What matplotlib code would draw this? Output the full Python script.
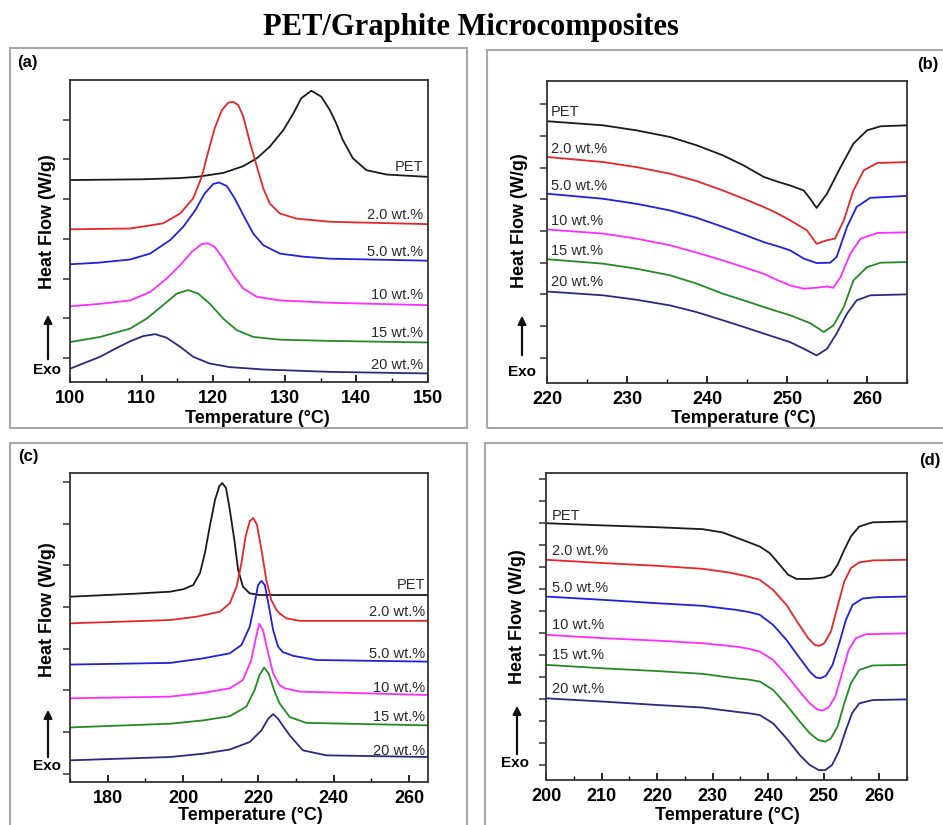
import matplotlib
matplotlib.use("Agg")
import matplotlib.pyplot as plt
from matplotlib.patches import Rectangle, FancyArrowPatch
from matplotlib.ticker import MultipleLocator

plt.rcParams['font.family'] = ['Liberation Sans', 'DejaVu Sans']

W, H = 943, 825

labels = ['PET', '2.0 wt.%', '5.0 wt.%', '10 wt.%', '15 wt.%', '20 wt.%']
colors = ['#1a1a1a', '#e8262a', '#2020dd', '#ff2bff', '#238b23', '#2a2a80']

# ---- (a) cooling crystallization, 100-150 C
a_T = [
    [100, 110.2, 115.3, 117.7, 121.4, 124.2, 126.1, 127.9, 129.8, 131.2, 132.3, 133.7, 135.1, 136.3, 137.2, 138.1, 139.5, 141.4, 144.2, 150],
    [100, 108.4, 113.0, 115.4, 117.2, 118.4, 119.3, 120.2, 121.2, 122.1, 122.8, 123.5, 124.2, 125.1, 126.1, 127.0, 127.9, 129.3, 131.6, 136.3, 150],
    [100, 104.0, 108.4, 111.2, 114.0, 115.8, 117.5, 118.8, 120.0, 120.8, 121.9, 123.0, 124.2, 125.6, 127.0, 129.3, 132.6, 136.3, 150],
    [100, 104.0, 108.4, 111.2, 113.5, 115.4, 117.0, 118.4, 119.2, 120.2, 121.4, 122.8, 124.2, 126.1, 129.3, 136.3, 150],
    [100, 104.2, 108.4, 110.7, 113.0, 114.9, 116.5, 117.9, 119.5, 121.4, 123.3, 125.6, 129.3, 136.3, 150],
    [100, 104.2, 106.5, 108.4, 110.2, 111.9, 113.5, 115.4, 117.2, 119.5, 122.3, 127.0, 136.3, 150],
]
a_y = [
    [5.48, 5.50, 5.53, 5.56, 5.66, 5.83, 6.03, 6.32, 6.74, 7.16, 7.54, 7.73, 7.58, 7.24, 6.90, 6.49, 6.03, 5.73, 5.62, 5.56],
    [4.24, 4.26, 4.39, 4.64, 5.02, 5.56, 6.19, 6.78, 7.24, 7.43, 7.45, 7.37, 7.08, 6.45, 5.82, 5.27, 4.89, 4.64, 4.51, 4.43, 4.37],
    [3.36, 3.40, 3.48, 3.63, 3.97, 4.30, 4.72, 5.14, 5.38, 5.42, 5.33, 5.02, 4.60, 4.13, 3.84, 3.63, 3.55, 3.50, 3.45],
    [2.30, 2.36, 2.45, 2.66, 3.00, 3.34, 3.67, 3.87, 3.89, 3.80, 3.50, 3.08, 2.75, 2.54, 2.45, 2.39, 2.33],
    [1.40, 1.53, 1.74, 1.99, 2.33, 2.62, 2.71, 2.62, 2.37, 1.99, 1.70, 1.53, 1.46, 1.43, 1.39],
    [0.73, 1.03, 1.25, 1.42, 1.55, 1.60, 1.51, 1.28, 1.03, 0.86, 0.77, 0.71, 0.65, 0.61],
]
a_label_y = [5.82, 4.60, 3.67, 2.58, 1.63, 0.82]

# ---- (b) melting after cooling, 220-265 C
b_T = [
    [220, 227.0, 231.2, 235.4, 238.7, 242.0, 244.6, 247.1, 248.7, 250.4, 252.1, 252.9, 253.7, 255.0, 256.7, 258.3, 260.0, 261.7, 265],
    [220, 227.0, 231.2, 235.4, 238.7, 242.0, 244.6, 247.1, 248.7, 250.4, 252.5, 253.7, 255.0, 256.0, 257.1, 258.3, 259.6, 261.3, 265],
    [220, 227.0, 231.2, 235.4, 238.7, 242.0, 244.6, 247.1, 248.7, 250.4, 252.1, 253.7, 255.4, 256.2, 257.5, 258.7, 260.4, 265],
    [220, 227.0, 231.2, 235.4, 238.7, 242.0, 244.6, 247.1, 248.7, 250.4, 252.1, 253.7, 255.0, 255.8, 256.7, 257.9, 259.2, 261.3, 265],
    [220, 227.0, 231.2, 235.4, 238.7, 242.0, 244.6, 247.1, 248.7, 250.4, 252.9, 254.6, 255.8, 257.1, 258.3, 260.0, 261.7, 265],
    [220, 227.0, 231.2, 235.4, 238.7, 242.0, 244.6, 247.1, 248.7, 250.4, 252.5, 253.7, 255.0, 256.2, 257.5, 258.7, 260.4, 265],
]
b_y = [
    [8.47, 8.34, 8.18, 7.97, 7.71, 7.39, 7.07, 6.71, 6.57, 6.44, 6.28, 6.02, 5.73, 6.18, 7.02, 7.76, 8.18, 8.31, 8.34],
    [7.34, 7.18, 7.02, 6.81, 6.58, 6.28, 6.02, 5.76, 5.57, 5.34, 5.02, 4.60, 4.71, 4.76, 5.34, 6.28, 6.92, 7.15, 7.18],
    [6.18, 6.02, 5.86, 5.65, 5.42, 5.13, 4.89, 4.65, 4.53, 4.39, 4.13, 3.99, 4.00, 4.18, 5.13, 5.76, 6.05, 6.11],
    [5.05, 4.92, 4.76, 4.55, 4.32, 4.07, 3.86, 3.65, 3.46, 3.28, 3.18, 3.21, 3.25, 3.21, 3.55, 4.28, 4.76, 4.94, 4.96],
    [4.11, 3.97, 3.81, 3.60, 3.34, 3.02, 2.81, 2.60, 2.47, 2.34, 2.09, 1.81, 2.02, 2.60, 3.44, 3.86, 4.00, 4.02],
    [3.09, 2.97, 2.83, 2.65, 2.44, 2.18, 1.97, 1.76, 1.63, 1.49, 1.23, 1.07, 1.28, 1.76, 2.39, 2.81, 2.97, 3.00],
]
b_label_y = [8.76, 7.60, 6.42, 5.31, 4.37, 3.39]

# ---- (c) cooling from melt, 170-265 C
c_T = [
    [170, 186.9, 196.6, 200.1, 202.7, 204.5, 205.8, 207.1, 208.5, 209.6, 210.4, 211.4, 212.4, 213.6, 214.6, 215.9, 217.7, 220.3, 225.6, 265],
    [170, 186.9, 196.6, 203.6, 209.8, 212.4, 214.2, 215.5, 216.6, 217.7, 218.6, 219.6, 220.8, 222.1, 223.4, 224.8, 225.6, 227.4, 231.0, 265],
    [170, 196.6, 205.4, 212.4, 215.5, 217.7, 219.0, 219.9, 220.8, 221.7, 222.8, 223.9, 225.2, 226.5, 229.2, 235.3, 265],
    [170, 196.6, 205.4, 212.4, 215.9, 218.1, 219.3, 220.2, 221.2, 222.6, 223.9, 225.6, 227.0, 231.0, 265],
    [170, 196.6, 205.4, 212.4, 216.8, 219.0, 220.3, 221.5, 222.7, 224.3, 225.6, 228.3, 232.7, 265],
    [170, 196.6, 205.4, 212.4, 217.7, 220.8, 222.6, 223.9, 225.2, 226.5, 228.3, 231.8, 238.0, 265],
]
c_y = [
    [5.25, 5.32, 5.37, 5.43, 5.53, 5.82, 6.30, 6.94, 7.58, 7.90, 7.98, 7.86, 7.34, 6.62, 5.90, 5.49, 5.33, 5.29, 5.29, 5.29],
    [4.61, 4.66, 4.69, 4.77, 4.89, 5.09, 5.49, 6.06, 6.70, 7.06, 7.14, 6.98, 6.38, 5.65, 5.17, 4.93, 4.85, 4.73, 4.67, 4.67],
    [3.62, 3.66, 3.77, 3.89, 4.09, 4.53, 5.09, 5.53, 5.63, 5.53, 5.01, 4.45, 4.05, 3.92, 3.83, 3.73, 3.69],
    [2.81, 2.85, 2.94, 3.05, 3.25, 3.73, 4.25, 4.60, 4.45, 3.89, 3.41, 3.13, 3.05, 2.97, 2.89],
    [2.11, 2.20, 2.28, 2.38, 2.61, 3.01, 3.37, 3.55, 3.41, 2.97, 2.69, 2.36, 2.22, 2.16],
    [1.32, 1.40, 1.48, 1.58, 1.76, 2.04, 2.32, 2.43, 2.32, 2.15, 1.92, 1.56, 1.44, 1.40],
]
c_label_y = [5.53, 4.89, 3.87, 3.05, 2.36, 1.55]

# ---- (d) second melting, 200-265 C
d_T = [
    [200, 210.3, 219.8, 228.2, 231.8, 235.3, 238.5, 240.3, 242.1, 243.6, 245.1, 247.5, 250.1, 251.3, 252.5, 253.7, 254.9, 256.4, 258.8, 265],
    [200, 210.3, 219.8, 228.2, 233.0, 236.0, 238.5, 240.9, 243.3, 245.4, 247.2, 248.4, 249.2, 250.1, 251.3, 252.5, 253.7, 254.9, 256.4, 258.8, 265],
    [200, 210.3, 219.8, 228.2, 234.1, 236.5, 238.5, 240.9, 243.3, 245.7, 247.5, 248.6, 249.4, 250.4, 251.6, 252.8, 254.0, 255.2, 257.0, 259.4, 265],
    [200, 210.3, 219.8, 228.2, 234.1, 236.5, 238.5, 240.9, 243.3, 245.7, 247.5, 248.8, 249.8, 250.9, 252.1, 253.3, 254.5, 255.8, 257.6, 265],
    [200, 210.3, 219.8, 228.2, 234.1, 236.5, 238.5, 240.9, 243.3, 245.7, 247.5, 249.0, 250.3, 251.3, 252.5, 253.7, 254.9, 256.4, 258.8, 265],
    [200, 210.3, 219.8, 228.2, 234.1, 236.5, 238.5, 240.9, 243.3, 245.7, 247.5, 249.1, 250.3, 251.5, 252.7, 253.9, 255.1, 256.4, 258.8, 265],
]
d_y = [
    [11.98, 11.88, 11.80, 11.71, 11.56, 11.23, 10.92, 10.62, 10.09, 9.64, 9.45, 9.45, 9.52, 9.64, 10.09, 10.77, 11.38, 11.83, 12.02, 12.06],
    [10.32, 10.17, 10.05, 9.91, 9.74, 9.58, 9.41, 8.95, 8.27, 7.44, 6.76, 6.45, 6.41, 6.53, 7.06, 8.20, 9.33, 9.94, 10.20, 10.29, 10.32],
    [8.65, 8.50, 8.35, 8.23, 8.05, 7.95, 7.82, 7.36, 6.68, 5.85, 5.24, 4.98, 4.94, 5.05, 5.55, 6.53, 7.59, 8.27, 8.56, 8.62, 8.65],
    [6.91, 6.76, 6.65, 6.53, 6.38, 6.28, 6.15, 5.77, 5.09, 4.33, 3.80, 3.53, 3.47, 3.62, 4.11, 5.17, 6.23, 6.76, 6.94, 6.98],
    [5.55, 5.39, 5.27, 5.14, 4.94, 4.88, 4.79, 4.41, 3.73, 2.97, 2.44, 2.14, 2.06, 2.21, 2.74, 3.80, 4.71, 5.32, 5.52, 5.55],
    [4.03, 3.88, 3.73, 3.61, 3.42, 3.35, 3.27, 2.89, 2.21, 1.45, 1.00, 0.77, 0.77, 1.00, 1.61, 2.52, 3.35, 3.80, 3.95, 3.98],
]
d_label_y = [12.32, 10.73, 9.03, 7.36, 6.00, 4.45]


def px(x0, y0, x1, y1):
    # pixel box (left, top, right, bottom) -> figure fraction rect
    return [x0 / W, 1 - y1 / H, (x1 - x0) / W, (y1 - y0) / H]


fig = plt.figure(figsize=(W / 100, H / 100), dpi=100)

fig.text(471 / W, 1 - 28 / H, 'PET/Graphite Microcomposites', ha='center', va='center',
         fontsize=22, fontweight='bold', family=['Liberation Serif', 'DejaVu Serif'])

# outer grey frames around each panel
for box in [(10, 48, 467, 428), (487, 50, 960, 428), (10, 443, 467, 840), (485, 443, 960, 840)]:
    r = px(*box)
    fig.patches.append(Rectangle((r[0], r[1]), r[2], r[3], transform=fig.transFigure,
                                 fill=False, edgecolor='#a8a8a8', lw=1.5))

panels = [
    dict(T=a_T, y=a_y, ly=a_label_y, box=(70, 80, 428, 382), xlim=(100, 150), ylim=(0.395, 8.0),
         xmaj=10, xmin=5, ymaj=[2, 4, 6], ymin=[1, 3, 5, 7], lx=149.3, ha='right',
         letter='(a)', letpos=(27, 62), ylab=(47, 222), arrow=(48, 362, 312), exo=(47, 370), xlab=(257, 418)),
    dict(T=b_T, y=b_y, ly=b_label_y, box=(547, 81, 907, 383), xlim=(220, 265), ylim=(0.2, 9.74),
         xmaj=10, xmin=5, ymaj=[3, 5, 7], ymin=[1, 2, 4, 6, 8, 9], lx=220.5, ha='left',
         letter='(b)', letpos=(928, 65), ylab=(520, 221), arrow=(522, 358, 313), exo=(522, 372), xlab=(743, 418)),
    dict(T=c_T, y=c_y, ly=c_label_y, box=(70, 473, 428, 782), xlim=(170, 265), ylim=(0.8, 8.22),
         xmaj=20, xmin=10, ymaj=[1, 2, 3, 4, 5, 6, 7, 8], ymin=[], lx=264.3, ha='right',
         letter='(c)', letpos=(28, 457), ylab=(47, 610), arrow=(48, 760, 707), exo=(47, 766), xlab=(250, 816)),
    dict(T=d_T, y=d_y, ly=d_label_y, box=(546, 473, 907, 780), xlim=(200, 265), ylim=(0.32, 14.26),
         xmaj=10, xmin=5, ymaj=[1, 3, 5, 7, 9, 11, 13], ymin=[2, 4, 6, 8, 10, 12, 14], lx=201, ha='left',
         letter='(d)', letpos=(930, 460), ylab=(517, 617), arrow=(517, 757, 703), exo=(515, 763), xlab=(727, 815)),
]

for p in panels:
    ax = fig.add_axes(px(*p['box']))
    for T, y, c in zip(p['T'], p['y'], colors):
        ax.plot(T, y, color=c, lw=1.3, solid_joinstyle='round')
    for lab, yy in zip(labels, p['ly']):
        ax.text(p['lx'], yy, lab, ha=p['ha'], va='center', fontsize=10.5, color='#2a2a2a')
    ax.set_xlim(*p['xlim'])
    ax.set_ylim(*p['ylim'])
    ax.xaxis.set_major_locator(MultipleLocator(p['xmaj']))
    ax.xaxis.set_minor_locator(MultipleLocator(p['xmin']))
    ax.set_yticks(p['ymaj'])
    ax.set_yticks(p['ymin'], minor=True)
    ax.set_yticklabels([])
    ax.tick_params(axis='x', which='major', direction='in', length=5, width=1.2, pad=6, labelsize=13)
    ax.tick_params(axis='x', which='minor', direction='in', length=3, width=1.0)
    ax.tick_params(axis='y', which='both', direction='out', length=5, width=1.1, color='#333333')
    for lbl in ax.get_xticklabels():
        lbl.set_fontweight('bold')
    for s in ax.spines.values():
        s.set_linewidth(1.3)
        s.set_color('#333333')

    fig.text(p['letpos'][0] / W, 1 - p['letpos'][1] / H, p['letter'], ha='center', va='center',
             fontsize=12, fontweight='bold')
    fig.text(p['ylab'][0] / W, 1 - p['ylab'][1] / H, 'Heat Flow (W/g)', rotation=90,
             ha='center', va='center', fontsize=13, fontweight='bold')
    fig.text(p['xlab'][0] / W, 1 - p['xlab'][1] / H, 'Temperature (°C)',
             ha='center', va='center', fontsize=13, fontweight='bold')
    axx, y0, y1 = p['arrow']
    fig.patches.append(FancyArrowPatch(
        (axx / W, 1 - y0 / H), (axx / W, 1 - y1 / H), transform=fig.transFigure,
        arrowstyle='-|>', mutation_scale=12, lw=1.6, color='#111111'))
    fig.text(p['exo'][0] / W, 1 - p['exo'][1] / H, 'Exo', ha='center', va='center',
             fontsize=11, fontweight='bold')

fig.savefig('out.png', dpi=100, facecolor='white')
